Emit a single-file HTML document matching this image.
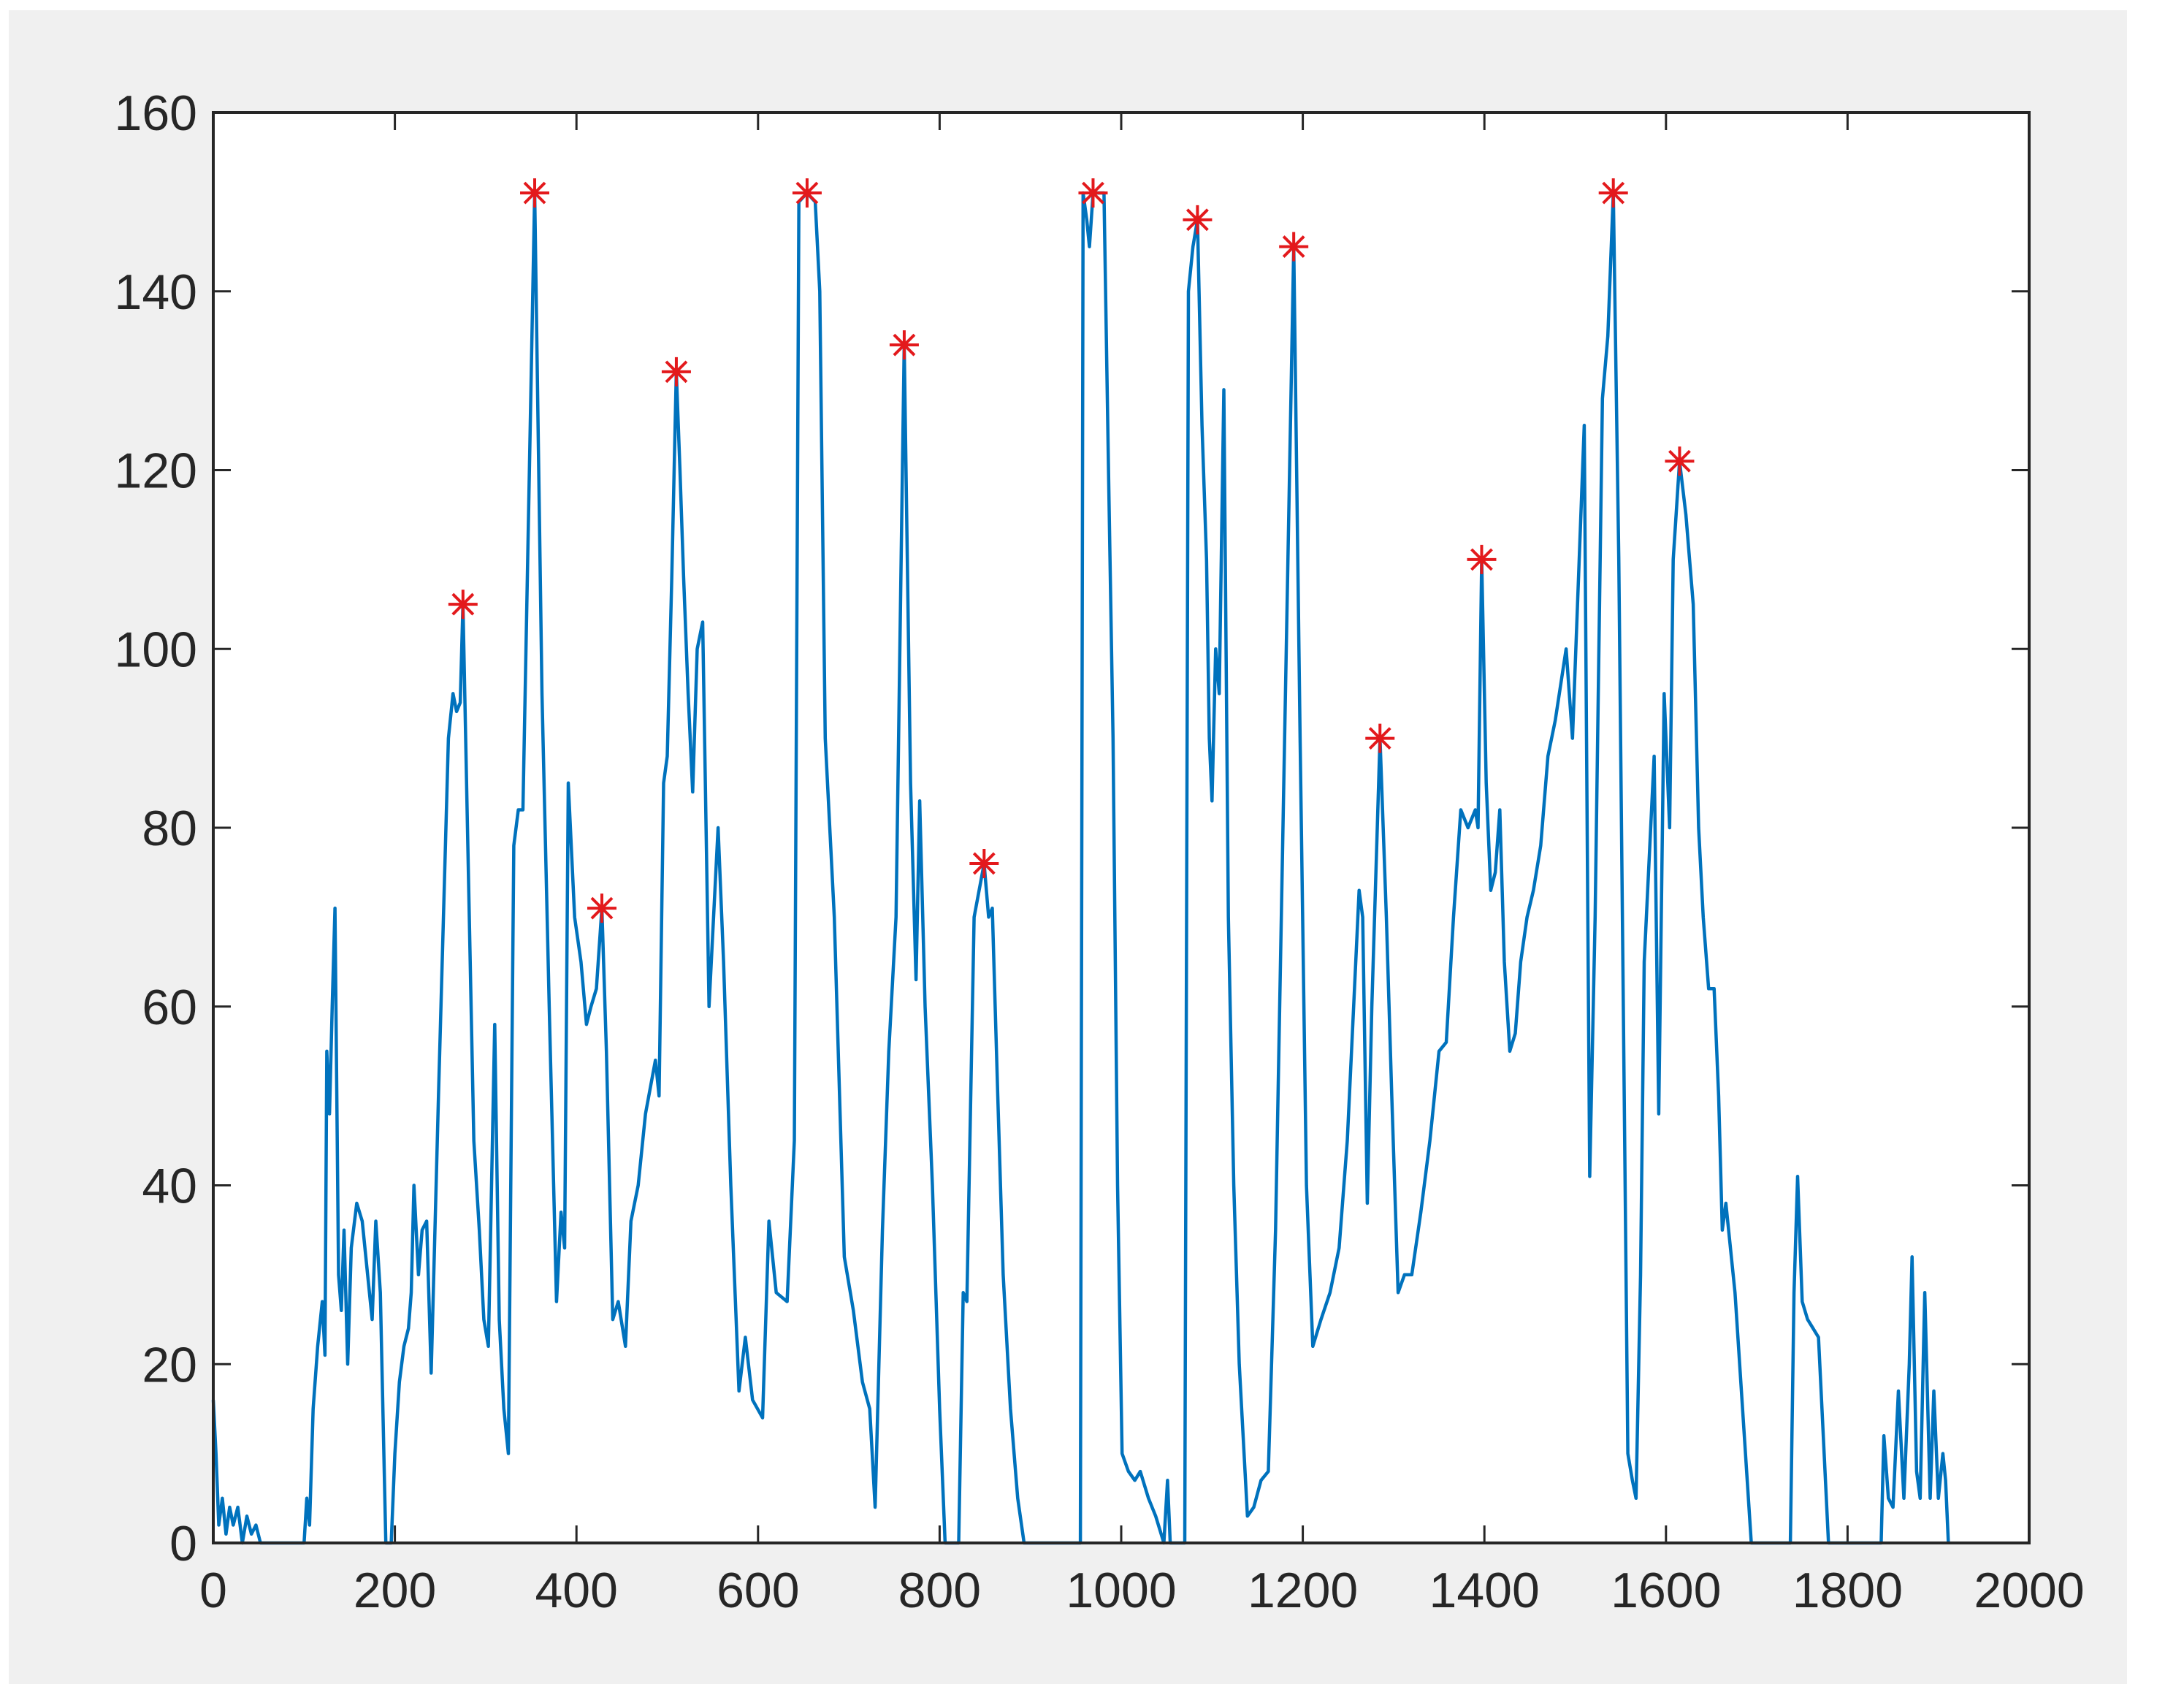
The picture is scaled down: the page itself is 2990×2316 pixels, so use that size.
<!DOCTYPE html>
<html><head><meta charset="utf-8"><style>
html,body{margin:0;padding:0;background:#fff;}
#wrap{position:relative;width:2990px;height:2316px;background:#fff;overflow:hidden;}
svg{position:absolute;left:0;top:0;}
text{font-family:"Liberation Sans",Arial,sans-serif;font-size:68px;fill:#262626;}
</style></head><body>
<div id="wrap">
<svg id="chart" width="2990" height="2316">
<rect x="12" y="14" width="2900" height="2291" fill="#f0f0f0"/>
<rect x="292" y="154" width="2486" height="1958" fill="#fff"/>
<g id="ticks"></g>
<path id="series" fill="none" stroke="#0072bd" stroke-width="4.5" stroke-linejoin="round"/>
<g id="peaks"></g>
<rect x="292" y="154" width="2486" height="1958" fill="none" stroke="#262626" stroke-width="4"/>
</svg>
</div>
<script>
const xTicks=[0,200,400,600,800,1000,1200,1400,1600,1800,2000];
const yTicks=[0,20,40,60,80,100,120,140,160];
const signal=[[0,16],[3,10],[6,2],[10,5],[14,1],[18,4],[22,2],[27,4],[32,0],[37,3],[42,1],[47,2],[52,0],[100,0],[103,5],[106,2],[110,15],[115,22],[120,27],[123,21],[125,55],[128,48],[131,60],[134,71],[138,30],[141,26],[144,35],[148,20],[152,33],[158,38],[164,36],[170,30],[175,25],[179,36],[184,28],[190,0],[196,0],[200,10],[205,18],[210,22],[215,24],[218,28],[221,40],[226,30],[230,35],[235,36],[240,19],[248,50],[259,90],[264,95],[268,93],[272,94],[275,105],[280,80],[287,45],[293,35],[298,25],[303,22],[310,58],[315,25],[320,15],[325,10],[331,78],[336,82],[341,82],[354,151],[362,95],[370,60],[378,27],[383,37],[387,33],[391,85],[398,70],[405,65],[411,58],[416,60],[422,62],[428,71],[433,55],[440,25],[446,27],[454,22],[460,36],[468,40],[476,48],[487,54],[491,50],[496,85],[500,88],[505,108],[510,131],[514,120],[518,108],[523,95],[528,84],[533,100],[539,103],[546,60],[556,80],[562,65],[570,40],[579,17],[586,23],[594,16],[605,14],[612,36],[620,28],[632,27],[640,45],[645,150],[654,151],[663,150],[668,140],[674,90],[684,70],[695,32],[705,26],[715,18],[723,15],[729,4],[737,35],[744,55],[752,70],[761,134],[768,85],[774,63],[778,83],[784,60],[792,40],[800,15],[806,0],[821,0],[826,28],[830,27],[838,70],[849,76],[854,70],[858,71],[864,50],[870,30],[878,15],[886,5],[893,0],[955,0],[958,151],[962,148],[965,145],[969,151],[975,151],[981,151],[986,120],[991,90],[996,40],[1001,10],[1008,8],[1015,7],[1021,8],[1030,5],[1038,3],[1047,0],[1051,7],[1054,0],[1070,0],[1074,140],[1079,145],[1084,148],[1089,125],[1094,110],[1097,90],[1100,83],[1104,100],[1108,95],[1113,129],[1118,70],[1124,40],[1130,20],[1139,3],[1146,4],[1154,7],[1162,8],[1170,35],[1180,90],[1190,145],[1197,90],[1204,40],[1211,22],[1220,25],[1230,28],[1240,33],[1249,45],[1256,60],[1262,73],[1266,70],[1271,38],[1276,60],[1285,90],[1292,70],[1298,50],[1305,28],[1312,30],[1320,30],[1330,37],[1340,45],[1350,55],[1358,56],[1366,70],[1374,82],[1382,80],[1390,82],[1393,80],[1397,110],[1402,85],[1407,73],[1412,75],[1417,82],[1422,65],[1428,55],[1434,57],[1440,65],[1447,70],[1454,73],[1462,78],[1470,88],[1478,92],[1490,100],[1497,90],[1510,125],[1516,41],[1522,70],[1530,128],[1536,135],[1542,151],[1548,110],[1553,60],[1558,10],[1563,7],[1567,5],[1572,30],[1576,65],[1587,88],[1592,48],[1598,95],[1604,80],[1608,110],[1615,121],[1622,115],[1630,105],[1636,80],[1641,70],[1647,62],[1653,62],[1658,50],[1662,35],[1666,38],[1676,28],[1694,0],[1737,0],[1741,28],[1745,41],[1750,27],[1756,25],[1762,24],[1768,23],[1779,0],[1837,0],[1840,12],[1845,5],[1850,4],[1856,17],[1862,5],[1868,20],[1871,32],[1876,8],[1880,5],[1885,28],[1891,5],[1895,17],[1900,5],[1905,10],[1908,7],[1911,0]];
const peakX=[275,354,428,510,654,761,849,969,1084,1190,1285,1397,1542,1615];
const peakY=[105,151,71,131,151,134,76,151,148,145,90,110,151,121];

const L=292,R=2778,T=154,B=2112;
const sx=v=>L+v/2000*(R-L);
const sy=v=>B-v/160*(B-T);
const NS='http://www.w3.org/2000/svg';
const tg=document.getElementById('ticks');
xTicks.forEach(v=>{
  const x=sx(v);
  const l=document.createElementNS(NS,'line');
  l.setAttribute('x1',x);l.setAttribute('x2',x);l.setAttribute('y1',B);l.setAttribute('y2',B-24);
  l.setAttribute('stroke','#262626');l.setAttribute('stroke-width','3');
  
  
  tg.appendChild(l);
  const l2=document.createElementNS(NS,'line');
  l2.setAttribute('x1',x);l2.setAttribute('x2',x);l2.setAttribute('y1',T);l2.setAttribute('y2',T+24);
  l2.setAttribute('stroke','#262626');l2.setAttribute('stroke-width','3');
  
  
  tg.appendChild(l2);
  const t=document.createElementNS(NS,'text');
  t.setAttribute('x',x);t.setAttribute('y',B+88);t.setAttribute('text-anchor','middle');
  t.textContent=v;
  
  
  tg.appendChild(t);
});
yTicks.forEach(v=>{
  const y=sy(v);
  const l=document.createElementNS(NS,'line');
  l.setAttribute('x1',L);l.setAttribute('x2',L+24);l.setAttribute('y1',y);l.setAttribute('y2',y);
  l.setAttribute('stroke','#262626');l.setAttribute('stroke-width','3');
  
  
  tg.appendChild(l);
  const l2=document.createElementNS(NS,'line');
  l2.setAttribute('x1',R);l2.setAttribute('x2',R-24);l2.setAttribute('y1',y);l2.setAttribute('y2',y);
  l2.setAttribute('stroke','#262626');l2.setAttribute('stroke-width','3');
  
  
  tg.appendChild(l2);
  const t=document.createElementNS(NS,'text');
  t.setAttribute('x',L-22);t.setAttribute('y',y+24);t.setAttribute('text-anchor','end');
  t.textContent=v;
  
  
  tg.appendChild(t);
});
let d='';
signal.forEach((p,i)=>{d+=(i?'L':'M')+sx(p[0]).toFixed(1)+','+sy(p[1]).toFixed(1);});
document.getElementById('series').setAttribute('d',d);
const pg=document.getElementById('peaks');
peakX.forEach((x,i)=>{
  const cx=sx(x),cy=sy(peakY[i]),r=20,r2=14;
  const p=document.createElementNS(NS,'path');
  p.setAttribute('d',`M${cx-r},${cy}H${cx+r}M${cx},${cy-r}V${cy+r}M${cx-r2},${cy-r2}L${cx+r2},${cy+r2}M${cx-r2},${cy+r2}L${cx+r2},${cy-r2}`);
  p.setAttribute('stroke','#e3191c');p.setAttribute('stroke-width','4');
  
  
  pg.appendChild(p);
});
</script>
</body></html>
